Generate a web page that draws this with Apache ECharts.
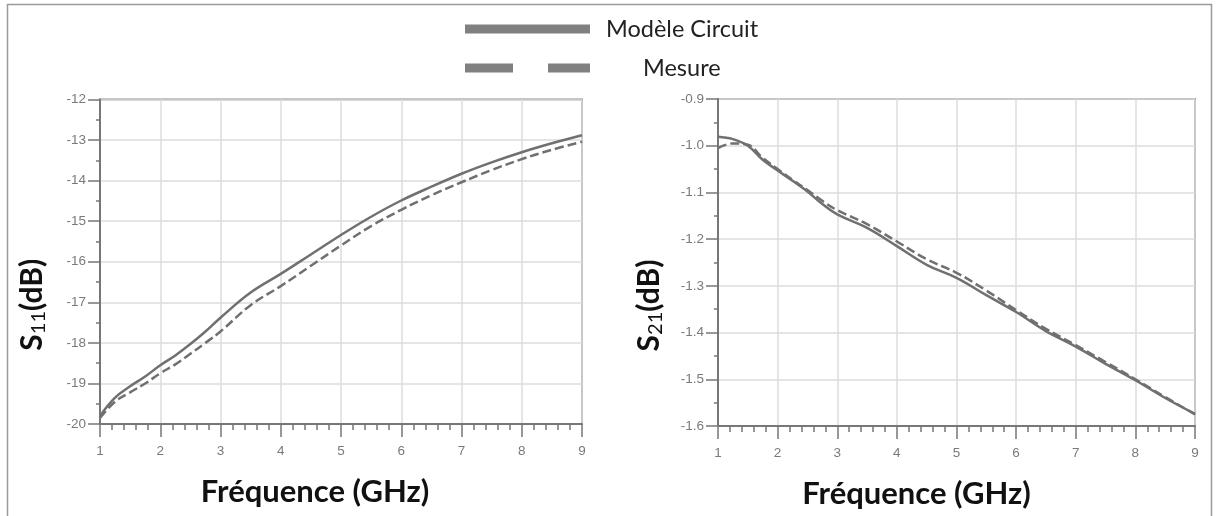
<!DOCTYPE html>
<html>
<head>
<meta charset="utf-8">
<script src="https://cdn.jsdelivr.net/npm/echarts@6/dist/echarts.min.js"></script>
<style>
html,body{margin:0;padding:0;background:#fff;}
#chart{width:1216px;height:516px;}
</style>
</head>
<body>
<div id="chart"></div>
<script>
// Frequency points (GHz)
const freq = [1, 1.25, 1.5, 1.75, 2, 2.25, 2.5, 2.75, 3, 3.5, 4, 4.5, 5, 5.5, 6, 6.5, 7, 7.5, 8, 8.5, 9];
// S11 (dB)
const s11Model = [-19.8, -19.35, -19.07, -18.83, -18.55, -18.31, -18.03, -17.72, -17.38, -16.76, -16.3, -15.82, -15.34, -14.89, -14.49, -14.15, -13.83, -13.55, -13.3, -13.08, -12.88];
const s11Mesure = [-19.85, -19.45, -19.22, -19.0, -18.75, -18.53, -18.27, -18.0, -17.72, -17.07, -16.6, -16.1, -15.6, -15.12, -14.72, -14.36, -14.04, -13.74, -13.47, -13.24, -13.04];
// S21 (dB)
const s21Model = [-0.981, -0.986, -1.0, -1.03, -1.053, -1.075, -1.098, -1.125, -1.147, -1.176, -1.215, -1.255, -1.283, -1.32, -1.356, -1.397, -1.43, -1.467, -1.502, -1.54, -1.574];
const s21Mesure = [-1.005, -0.995, -0.998, -1.026, -1.05, -1.073, -1.095, -1.118, -1.138, -1.168, -1.205, -1.243, -1.272, -1.31, -1.352, -1.392, -1.427, -1.463, -1.5, -1.538, -1.575];
// Labels
const seriesNames = ['Modèle Circuit', 'Mesure'];
const xName = 'Fréquence (GHz)';

const pairs = (ys) => freq.map((f, i) => [f, ys[i]]);

const lineColor = '#707070';
const labelStyle = { color: '#7a7a7a', fontSize: 13.5, fontFamily: 'Liberation Sans' };

function xAxis(gridIndex, pad) {
  return {
    type: 'value', gridIndex: gridIndex, min: 1, max: 9, interval: 1,
    name: xName, nameLocation: 'middle', nameGap: 52,
    nameTextStyle: { fontFamily: 'Lato', fontWeight: 'bold', fontSize: 31, color: '#111', padding: pad },
    axisLine: { show: true, lineStyle: { color: '#777', width: 2 } },
    axisTick: { show: true, length: 13, lineStyle: { color: '#777', width: 1.5 } },
    minorTick: { show: true, splitNumber: 5, length: 6, lineStyle: { color: '#777', width: 1.5 } },
    axisLabel: Object.assign({ margin: 20 }, labelStyle),
    splitLine: { show: true, lineStyle: { color: '#dcdcdc', width: 1.5 } }
  };
}
function yAxis(gridIndex, min, max, interval, sub, fmt, gap) {
  return {
    type: 'value', gridIndex: gridIndex, min: min, max: max, interval: interval,
    name: '{s|S}{sub|' + sub + '}{s|(dB)}', nameLocation: 'middle', nameGap: gap, nameRotate: 90,
    nameTextStyle: {
      padding: [0, 86, 0, 0],
      rich: {
        s: { fontFamily: 'Lato', fontWeight: 'bold', fontSize: 30, color: '#111' },
        sub: { fontFamily: 'Lato', fontSize: 20, color: '#111', padding: [13, 0, 0, 0] }
      }
    },
    axisLine: { show: true, onZero: false, lineStyle: { color: '#777', width: 2 } },
    axisTick: { show: true, length: 12, lineStyle: { color: '#777', width: 1.5 } },
    minorTick: { show: true, splitNumber: 2, length: 4, lineStyle: { color: '#777', width: 1.5 } },
    axisLabel: Object.assign({ margin: 14, formatter: fmt }, labelStyle),
    splitLine: { show: true, lineStyle: { color: '#dcdcdc', width: 1.5 } }
  };
}
function lineSeries(name, xi, data, dashed) {
  return {
    type: 'line', name: name, xAxisIndex: xi, yAxisIndex: xi, data: data,
    smooth: 0.4, showSymbol: false, symbol: 'none',
    lineStyle: { color: lineColor, width: 2.5, type: dashed ? [9, 4] : 'solid' },
    itemStyle: { color: '#808080' }
  };
}

const chart = echarts.init(document.getElementById('chart'), null, { renderer: 'canvas' });
chart.setOption({
  backgroundColor: '#fff',
  animation: false,
  graphic: [{
    type: 'rect', silent: true, z: -10,
    shape: { x: 7.5, y: 4.5, width: 1204, height: 530 },
    style: { fill: 'none', stroke: '#9a9a9a', lineWidth: 1.5 }
  }],
  legend: [
    {
      data: [seriesNames[0]], left: 465, top: 17, padding: 0,
      itemWidth: 125, itemHeight: 9,
      icon: 'path://M0,0H125V9H0Z',
      itemStyle: { color: '#808080', borderWidth: 0 },
      textStyle: { fontFamily: 'Lato', fontSize: 23.5, color: '#222', padding: [0, 0, 0, 11] }
    },
    {
      data: [seriesNames[1]], left: 465, top: 56, padding: 0,
      itemWidth: 125, itemHeight: 9,
      icon: 'path://M0,0H48V9H0Z M83,0H125V9H83Z',
      itemStyle: { color: '#808080', borderWidth: 0 },
      textStyle: { fontFamily: 'Lato', fontSize: 23.5, color: '#222', padding: [0, 0, 0, 48] }
    }
  ],
  grid: [
    { left: 100, top: 99.5, width: 482, height: 324.5, show: true, borderColor: '#8a8a8a', borderWidth: 2, backgroundColor: 'transparent' },
    { left: 718, top: 99, width: 477, height: 327, show: true, borderColor: '#8a8a8a', borderWidth: 2, backgroundColor: 'transparent' }
  ],
  xAxis: [xAxis(0, [0, 52, 0, 0]), xAxis(1, [0, 80, 0, 0])],
  yAxis: [
    yAxis(0, -20, -12, 1, '11', (v) => String(Math.round(v)), 51),
    yAxis(1, -1.6, -0.9, 0.1, '21', (v) => v.toFixed(1), 52)
  ],
  series: [
    lineSeries(seriesNames[0], 0, pairs(s11Model), false),
    lineSeries(seriesNames[1], 0, pairs(s11Mesure), true),
    lineSeries(seriesNames[0], 1, pairs(s21Model), false),
    lineSeries(seriesNames[1], 1, pairs(s21Mesure), true)
  ]
});
</script>
</body>
</html>
